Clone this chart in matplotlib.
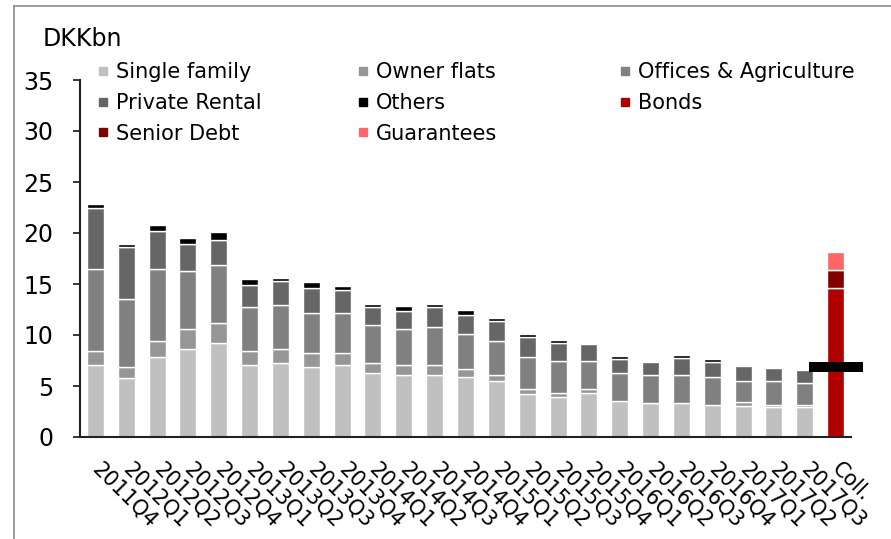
import matplotlib
matplotlib.use("Agg")
import matplotlib.pyplot as plt
from matplotlib.lines import Line2D
import numpy as np

categories = ["2011Q4", "2012Q1", "2012Q2", "2012Q3", "2012Q4",
              "2013Q1", "2013Q2", "2013Q3", "2013Q4",
              "2014Q1", "2014Q2", "2014Q3", "2014Q4",
              "2015Q1", "2015Q2", "2015Q3", "2015Q4",
              "2016Q1", "2016Q2", "2016Q3", "2016Q4",
              "2017Q1", "2017Q2", "2017Q3", "Coll."]

single_family = [7.05, 5.75, 7.85, 8.65, 9.25, 7.10, 7.25, 6.85, 7.05, 6.30, 6.10, 6.10, 5.90,
                 5.50, 4.20, 3.95, 4.35, 3.55, 3.35, 3.35, 3.15, 3.00, 2.95, 2.95, 0]
owner_flats = [1.35, 1.10, 1.55, 1.95, 1.95, 1.30, 1.40, 1.40, 1.15, 1.00, 1.00, 1.00, 0.80,
               0.60, 0.55, 0.35, 0.35, 0, 0, 0, 0, 0.40, 0.15, 0.15, 0]
offices_agri = [8.10, 6.70, 7.10, 5.65, 5.65, 4.35, 4.30, 3.90, 3.95, 3.70, 3.50, 3.70, 3.35,
                3.30, 3.10, 3.15, 2.75, 2.70, 2.75, 2.75, 2.75, 2.10, 2.40, 2.20, 0]
private_rental = [6.00, 5.05, 3.65, 2.70, 2.50, 2.15, 2.30, 2.50, 2.30, 1.75, 1.75, 1.95, 1.90,
                  1.95, 1.95, 1.80, 1.70, 1.40, 1.30, 1.60, 1.45, 1.50, 1.30, 1.25, 0]
others = [0.35, 0.35, 0.60, 0.60, 0.75, 0.55, 0.35, 0.55, 0.40, 0.30, 0.50, 0.30, 0.55,
          0.30, 0.30, 0.25, 0, 0.30, 0, 0.30, 0.25, 0, 0, 0, 0]
bonds = [0] * 24 + [14.60]
senior_debt = [0] * 24 + [1.80]
guarantees = [0] * 24 + [1.70]
requirement_coll = 6.88

series = [
    ("Single family", single_family, "#c0c0c0"),
    ("Owner flats", owner_flats, "#969696"),
    ("Offices & Agriculture", offices_agri, "#808080"),
    ("Private Rental", private_rental, "#666666"),
    ("Others", others, "#000000"),
    ("Bonds", bonds, "#b00000"),
    ("Senior Debt", senior_debt, "#800000"),
    ("Guarantees", guarantees, "#ff6666"),
]

W, H = 891, 539
fig = plt.figure(figsize=(W / 100, H / 100), dpi=100)
ax = fig.add_axes([80 / W, 1 - 437 / H, (851 - 80) / W, (437 - 80) / H])

x = np.arange(len(categories))
bottom = np.zeros(len(categories))
handles = {}
for name, vals, col in series:
    v = np.array(vals, dtype=float)
    m = v > 0
    ax.bar(x[m], v[m], bottom=bottom[m], width=0.55, color=col,
           edgecolor="white", linewidth=1.0, zorder=2)
    bottom += v
    handles[name] = Line2D([], [], marker="s", linestyle="none",
                           markersize=5.8, color=col)

# requirement marker on collateral bar
ax.plot([x[-1]], [requirement_coll], marker="_", markersize=39,
        markeredgewidth=7.2, color="black", clip_on=False, zorder=5)

ax.set_xlim(-0.5, len(categories) - 0.5)
ax.set_ylim(0, 35)
ax.set_yticks(np.arange(0, 36, 5))
ax.tick_params(axis="y", labelsize=17, length=5, width=1.1, pad=14, direction="out")
ax.set_xticks(x)
ax.set_xticklabels(categories, rotation=-45, ha="left", va="center",
                   rotation_mode="anchor", fontsize=15)
ax.tick_params(axis="x", length=0, pad=21)
for s in ["top", "right"]:
    ax.spines[s].set_visible(False)
ax.spines["left"].set_linewidth(1.5)
ax.spines["bottom"].set_linewidth(1.5)
ax.spines["left"].set_color("#222222")
ax.spines["bottom"].set_color("#222222")

fig.text(43 / W, 1 - 46 / H, "DKKbn", fontsize=17, va="baseline", ha="left")

# legends (three columns)
cols = [
    (["Single family", "Private Rental", "Senior Debt"], 103),
    (["Owner flats", "Others", "Guarantees"], 363),
    (["Offices & Agriculture", "Bonds"], 625),
]
fs = 15
hl = 0.4
for names, xc in cols:
    left = xc - hl * fs * 100 / 72 / 2
    leg = fig.legend([handles[n] for n in names], names, loc="upper left",
                     bbox_to_anchor=(left / W, 1 - 62 / H), frameon=False,
                     fontsize=fs, handlelength=hl, handletextpad=0.4,
                     borderpad=0, borderaxespad=0, labelspacing=0.52)

# figure border (left and top)
fig.add_artist(Line2D([14 / W, 14 / W], [0, 1 - 6 / H], color="#8c8c8c",
                      lw=1.2, transform=fig.transFigure))
fig.add_artist(Line2D([14 / W, 1], [1 - 6 / H, 1 - 6 / H], color="#8c8c8c",
                      lw=1.2, transform=fig.transFigure))

fig.savefig("out.png", dpi=100)
